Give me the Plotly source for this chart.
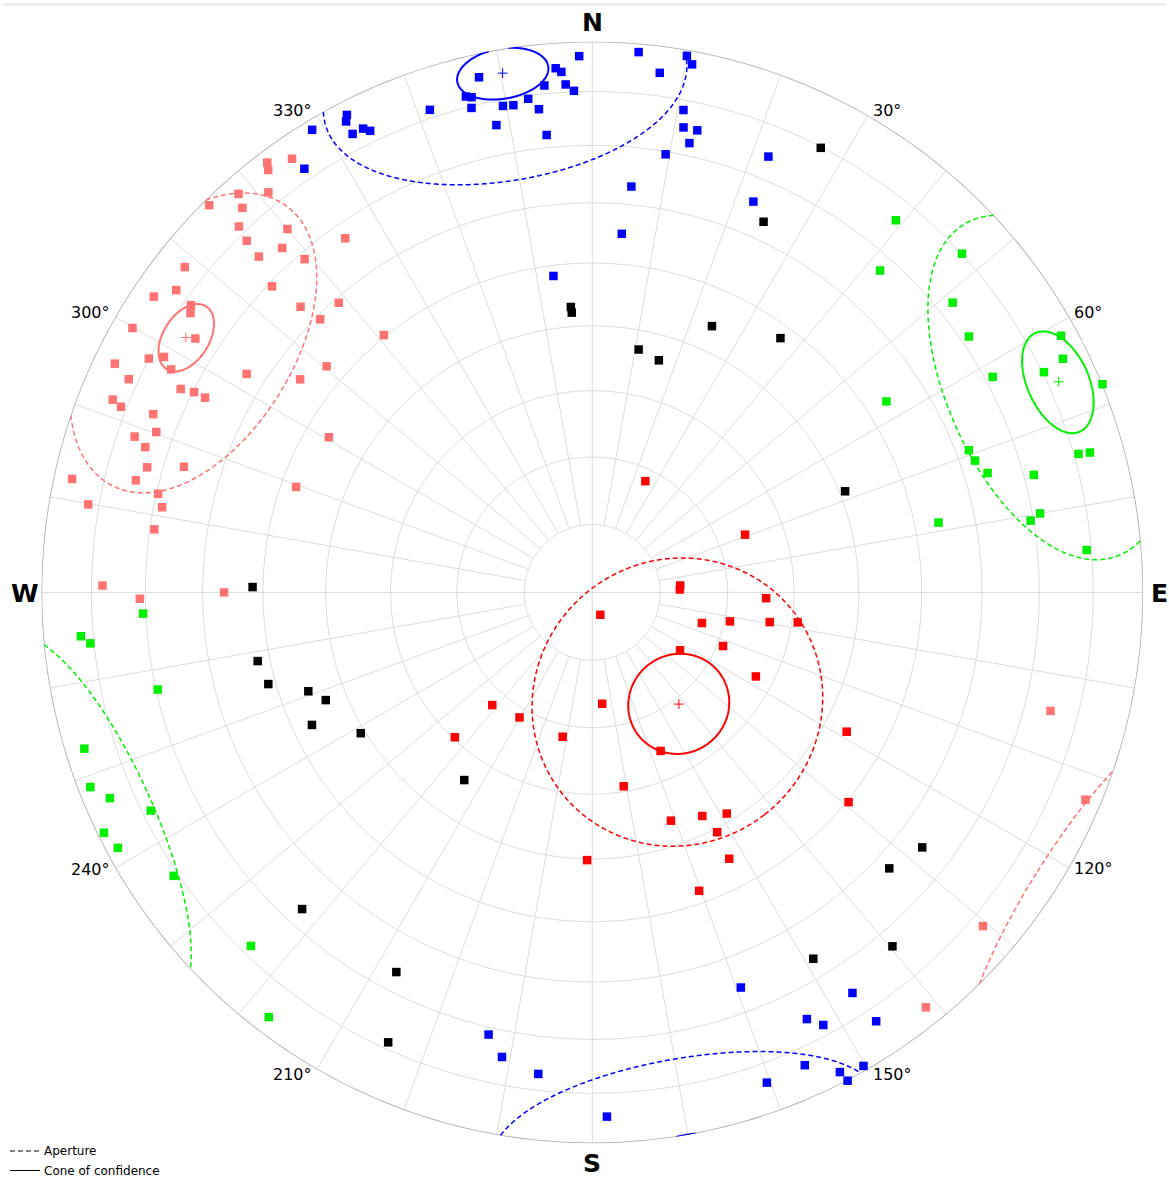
import numpy as np
import plotly.graph_objects as go

# ---------------------------------------------------------------------------
# Pole data (trend / plunge in degrees, lower hemisphere)
# ---------------------------------------------------------------------------
blue_trend = [358.6, 4.9, 10.0, 10.7, 7.4, 356.0, 356.6, 347.6, 354.6, 357.0, 357.9, 345.7, 346.3, 346.0,
              349.6, 350.8, 352.6, 353.7, 341.4, 348.4, 354.3, 332.8, 332.4, 332.4, 333.7, 334.3, 328.8, 325.8,
              10.7, 11.1, 12.8, 12.2, 9.5, 5.5, 22.0, 22.4, 4.7, 353.0,
              159.4, 147.0, 153.3, 151.9, 146.5, 193.2, 191.0, 186.4, 155.8, 152.7, 150.2, 152.4, 160.4, 178.4]
blue_plunge = [3.0, 1.8, 1.3, 2.8, 5.5, 5.2, 6.0, 4.8, 8.4, 8.5, 9.8, 7.9, 8.3, 10.3,
               11.2, 11.4, 10.6, 12.8, 8.4, 14.5, 17.7, 2.9, 4.0, 6.8, 6.8, 7.8, 2.1, 7.8,
               11.9, 15.1, 15.1, 17.7, 20.5, 26.9, 15.8, 24.3, 35.0, 41.7,
               24.4, 14.4, 14.4, 12.0, 7.4, 18.7, 15.2, 13.1, 6.6, 2.3, 1.1, 0.0, 6.2, 5.4]

black_trend = [27.2, 24.8, 355.7, 355.8, 24.2, 36.5, 10.8, 16.0, 68.2, 270.9, 258.4, 254.2,
               250.8, 248.0, 244.7, 238.7, 214.3, 127.7, 132.9, 139.7, 148.9, 222.5, 207.3, 204.4]
black_plunge = [10.2, 26.8, 46.9, 47.8, 46.0, 42.1, 53.0, 53.9, 49.1, 38.3, 38.0, 38.8,
                44.6, 46.7, 43.1, 49.3, 56.1, 25.3, 27.3, 16.9, 23.4, 23.1, 23.5, 11.3]

red_trend = [25.5, 69.3, 85.5, 88.1, 91.9, 160.3, 105.6, 101.9, 99.5, 98.3, 112.3, 123.4, 117.2, 221.6, 210.2,
             174.9, 223.5, 191.6, 156.7, 118.7, 170.8, 161.0, 153.8, 148.7, 152.5, 129.3, 152.8, 181.1, 160.3]
red_plunge = [71.8, 65.8, 77.0, 77.1, 64.2, 86.5, 73.2, 69.2, 63.3, 59.1, 69.1, 74.5, 62.7, 67.7, 68.6,
              73.5, 60.3, 68.2, 64.4, 46.3, 60.8, 53.9, 52.7, 51.2, 49.4, 39.7, 44.8, 49.8, 42.0]

pink_trend = [322.9, 325.3, 322.5, 321.0, 318.4, 315.3, 317.7, 316.0, 320.0, 315.5, 318.0, 315.2, 319.2, 325.1,
              308.6, 313.7, 306.0, 304.0, 318.8, 314.4, 305.6, 304.8, 315.1, 299.9, 321.0, 302.6, 297.8, 298.8,
              295.6, 310.4, 297.9, 302.3, 306.1, 294.7, 296.3, 296.7, 296.7, 291.9, 291.5, 292.1, 300.5, 290.2,
              288.8, 288.0, 285.7, 287.1, 282.3, 283.8, 289.6, 282.8, 279.9, 281.2, 278.2, 270.0, 270.8, 269.2,
              104.5, 112.8, 130.5, 141.2]
pink_plunge = [2.5, 4.8, 3.8, 7.3, 3.7, 1.3, 6.3, 8.5, 15.0, 11.5, 17.0, 15.2, 21.2, 22.7,
               6.0, 20.7, 7.4, 4.5, 30.8, 26.8, 11.4, 12.2, 30.7, 4.2, 39.7, 15.6, 9.9, 12.3,
               4.4, 36.8, 14.6, 26.7, 34.7, 8.2, 17.8, 20.2, 22.4, 6.9, 8.9, 15.1, 43.8, 16.8,
               13.3, 15.8, 17.2, 23.5, 3.8, 15.8, 42.4, 20.3, 7.9, 21.5, 20.8, 33.6, 12.1, 19.0,
               15.2, 3.3, 7.5, 3.8]

green_trend = [39.2, 47.5, 41.8, 51.2, 55.8, 61.3, 63.6, 64.0, 67.8, 61.7, 57.0, 74.1, 74.3, 69.3, 71.0,
               73.2, 75.1, 80.0, 80.7, 78.6, 85.1,
               267.3, 265.1, 264.2, 257.4, 252.9, 248.8, 246.9, 243.8, 241.7, 243.7, 235.9, 224.0, 217.3]
green_plunge = [13.9, 9.9, 22.7, 17.2, 18.5, 3.4, 5.2, 9.7, 0.0, 18.6, 36.5, 9.1, 6.9, 27.8, 27.4,
                26.0, 18.2, 18.6, 20.5, 36.1, 10.9,
                19.5, 7.6, 9.3, 20.3, 4.0, 2.6, 5.4, 1.4, 2.5, 11.6, 9.1, 11.8, 3.5]

# Fisher statistics of the four clustered sets
cluster_names = ["blue", "red", "pink", "green"]
mean_trend = [350.2, 142.2, 302.1, 65.7]
mean_plunge = [4.9, 69.1, 14.0, 7.9]
cone_angle = [5.0, 7.4, 4.3, 6.0]          # cone of confidence (deg)
aperture_angle = [20.0, 21.4, 19.2, 20.4]  # aperture (deg)

# ---------------------------------------------------------------------------
# Styling
# ---------------------------------------------------------------------------
COLORS = {"blue": "#0000ff", "black": "#000000", "red": "#ff0000",
          "pink": "#ff7373", "green": "#00f000"}
GRID = "#dcdcdc"
PRIMITIVE = "#b4b4b4"
FONT = "DejaVu Sans"

W, H = 1169, 1178
CX, CY, RAD = 592.3, 592.4, 551.0   # net centre and radius, px


def ea_r(plunge):
    """Schmidt (equal-area) radius, primitive circle = 1."""
    return np.sqrt(2) * np.sin(np.radians(90.0 - np.asarray(plunge, float)) / 2)


def small_circle(trend, plunge, alpha, n=1441):
    """Small circle of half-angle alpha about (trend, plunge), folded onto the lower hemisphere."""
    t, p, a = np.radians([trend, plunge, alpha])
    m = np.array([np.cos(p) * np.sin(t), np.cos(p) * np.cos(t), np.sin(p)])
    u = np.array([np.sin(p) * np.sin(t), np.sin(p) * np.cos(t), -np.cos(p)])
    v = np.cross(m, u)
    phi = np.linspace(0, 2 * np.pi, n)
    pts = np.cos(a) * m[:, None] + np.sin(a) * (np.cos(phi) * u[:, None] + np.sin(phi) * v[:, None])
    upper = pts[2] < 0
    pts = np.where(upper, -pts, pts)
    tr = np.degrees(np.arctan2(pts[0], pts[1])) % 360
    r = ea_r(np.degrees(np.arcsin(np.clip(pts[2], -1, 1))))
    rr, tt = [], []
    for i in range(n):
        if i > 0 and upper[i] != upper[i - 1]:
            rr.append(None)
            tt.append(None)
        rr.append(float(r[i]))
        tt.append(float(tr[i]))
    return rr, tt


fig = go.Figure()

# ---- net: plunge circles every 10 deg, azimuth spokes every 10 deg ----
ring = np.arange(0, 361, 1.0)
gr, gt = [], []
for pl in range(10, 90, 10):
    gr += list(np.full(ring.size, ea_r(pl))) + [None]
    gt += list(ring) + [None]
inner = float(ea_r(80))
for az in range(0, 360, 10):
    start = 0.0 if az % 90 == 0 else inner
    gr += [start, 1.0, None]
    gt += [az, az, None]
fig.add_trace(go.Scatterpolar(r=gr, theta=gt, mode="lines", hoverinfo="skip",
                              line=dict(color=GRID, width=1)))
fig.add_trace(go.Scatterpolar(r=np.ones(ring.size), theta=ring, mode="lines", hoverinfo="skip",
                              line=dict(color=PRIMITIVE, width=2)))

# ---- poles ----
point_sets = [("blue", blue_trend, blue_plunge), ("black", black_trend, black_plunge),
              ("red", red_trend, red_plunge), ("pink", pink_trend, pink_plunge),
              ("green", green_trend, green_plunge)]
for name, tr, pl in point_sets:
    fig.add_trace(go.Scatterpolar(r=ea_r(pl), theta=tr, mode="markers", name=name, cliponaxis=False,
                                  marker=dict(symbol="square", size=8.5, color=COLORS[name],
                                              line=dict(width=0))))

# ---- aperture (dashed) and cone of confidence (solid) around each mean ----
for i, name in enumerate(cluster_names):
    col = COLORS[name]
    rr, tt = small_circle(mean_trend[i], mean_plunge[i], aperture_angle[i])
    fig.add_trace(go.Scatterpolar(r=rr, theta=tt, mode="lines", hoverinfo="skip",
                                  line=dict(color=col, width=1.5, dash="5px,3px")))
    rr, tt = small_circle(mean_trend[i], mean_plunge[i], cone_angle[i])
    fig.add_trace(go.Scatterpolar(r=rr, theta=tt, mode="lines", hoverinfo="skip",
                                  line=dict(color=col, width=2)))
    fig.add_trace(go.Scatterpolar(r=[float(ea_r(mean_plunge[i]))], theta=[mean_trend[i]], mode="markers",
                                  marker=dict(symbol="cross-thin", size=7,
                                              line=dict(color=col, width=1))))


def paper(x, y):
    return x / W, 1 - y / H


annotations = []
# cardinal letters
for txt, (x, y) in {"N": (592.3, 22.8), "E": (1159.0, 593.0),
                    "S": (592.3, 1163.0), "W": (24.5, 593.0)}.items():
    px, py = paper(x, y)
    annotations.append(dict(x=px, y=py, xref="paper", yref="paper", text=f"<b>{txt}</b>",
                            showarrow=False, xanchor="center", yanchor="middle",
                            font=dict(family=FONT, size=25, color="#000")))
# degree labels hung on the primitive circle
for az in [30, 60, 120, 150, 210, 240, 300, 330]:
    a = np.radians(az)
    x = CX + RAD * np.sin(a)
    y = CY - RAD * np.cos(a)
    east = np.sin(a) > 0
    x += 3 if east else -3
    y += {30: -5, 330: -5, 60: -4, 300: -4.5, 120: 1, 240: 1.5, 150: 4.5, 210: 4.5}[az]
    px, py = paper(x, y)
    annotations.append(dict(x=px, y=py, xref="paper", yref="paper", text=f"{az}°",
                            showarrow=False, xanchor="left" if east else "right", yanchor="middle",
                            font=dict(family=FONT, size=16, color="#000")))

# key for the two line styles
shapes = [dict(type="line", xref="paper", yref="paper", x0=3 / W, x1=1166 / W,
               y0=1 - 4.5 / H, y1=1 - 4.5 / H, line=dict(color="#e6e6e6", width=2))]
for y, dash, label in [(1151, "5px,3px", "Aperture"), (1170.5, "solid", "Cone of confidence")]:
    x0, py = paper(10, y)
    x1, _ = paper(40, y)
    shapes.append(dict(type="line", xref="paper", yref="paper", x0=x0, x1=x1, y0=py, y1=py,
                       line=dict(color="#000", width=1, dash=dash)))
    tx, _ = paper(42, y)
    annotations.append(dict(x=tx, y=py, xref="paper", yref="paper", text=label, showarrow=False,
                            xanchor="left", yanchor="middle",
                            font=dict(family=FONT, size=12, color="#000")))

fig.update_layout(
    width=W, height=H, margin=dict(l=0, r=0, t=0, b=0),
    paper_bgcolor="white", showlegend=False,
    annotations=annotations, shapes=shapes,
    polar=dict(
        domain=dict(x=[(CX - RAD) / W, (CX + RAD) / W], y=[1 - (CY + RAD) / H, 1 - (CY - RAD) / H]),
        bgcolor="white",
        radialaxis=dict(range=[0, 1], visible=False),
        angularaxis=dict(rotation=90, direction="clockwise", showgrid=False, showline=False,
                         showticklabels=False, ticks=""),
    ),
)

fig.write_html("out.html")
